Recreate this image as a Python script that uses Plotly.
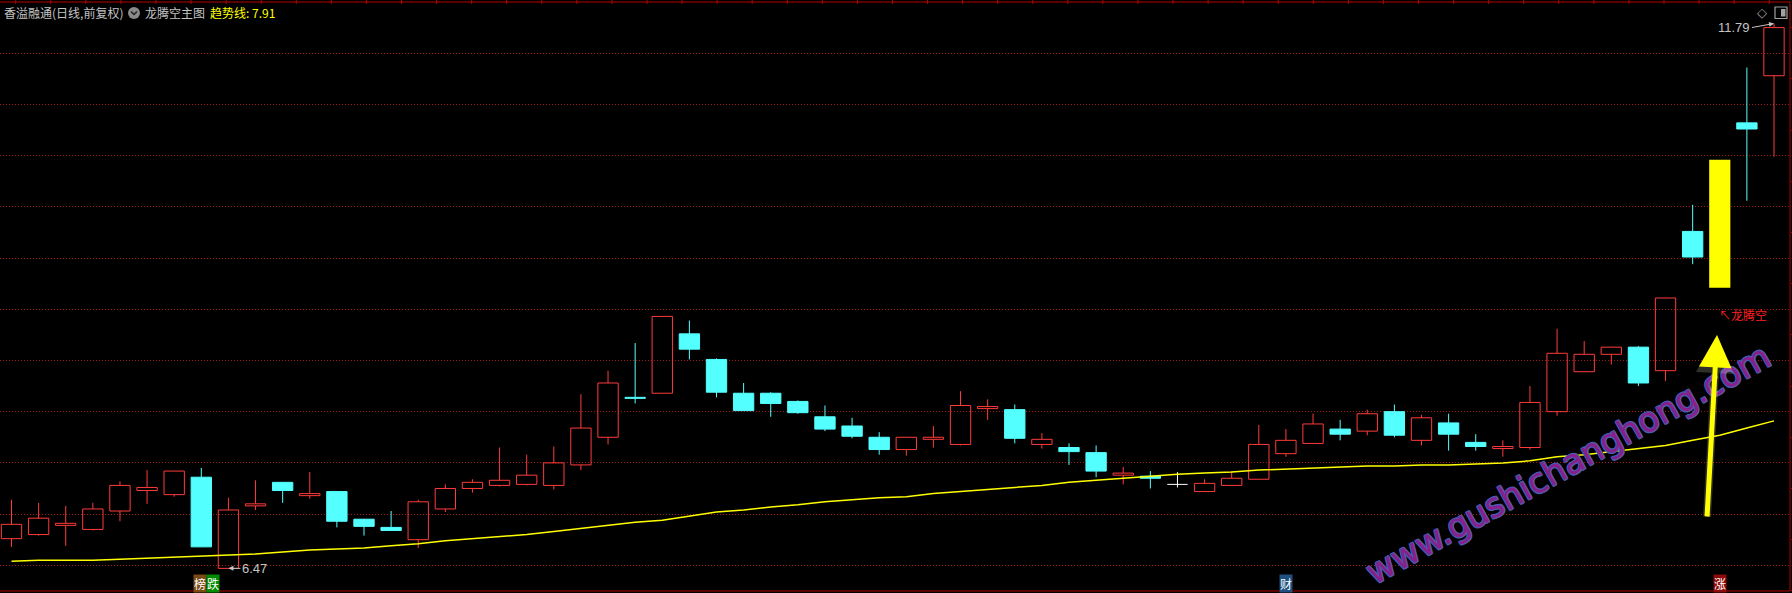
import plotly.graph_objects as go

# ---------------- data ----------------
# 66 daily candles; index 63 is covered by the yellow signal bar (candle not visible)
opens = [6.76, 6.80, 6.89, 6.85, 7.03, 7.23, 7.19, 7.36, 6.47, 7.08,
         7.31, 7.18, 7.22, 6.95, 6.87, 6.75, 7.05, 7.25, 7.28, 7.29,
         7.28, 7.48, 7.75, 8.14, 8.18, 8.76, 8.51, 8.18, 8.18, 8.10,
         7.95, 7.86, 7.75, 7.63, 7.73, 7.68, 8.03, 8.02, 7.68, 7.65,
         7.60, 7.38, 7.37, 7.29, 7.22, 7.28, 7.34, 7.59, 7.69, 7.83,
         7.81, 8.00, 7.72, 7.89, 7.70, 7.64, 7.65, 8.00, 8.39, 8.56,
         8.63, 8.40, 9.76, None, 10.82, 11.28]
highs = [7.14, 7.11, 7.08, 7.11, 7.32, 7.43, 7.42, 7.45, 7.16, 7.33,
         7.31, 7.41, 7.22, 6.95, 7.03, 7.14, 7.29, 7.34, 7.65, 7.58,
         7.66, 8.17, 8.40, 8.67, 8.93, 8.89, 8.52, 8.28, 8.19, 8.11,
         8.06, 7.94, 7.80, 7.75, 7.86, 8.20, 8.12, 8.07, 7.79, 7.69,
         7.67, 7.46, 7.42, 7.41, 7.34, 7.42, 7.87, 7.83, 7.98, 7.92,
         8.02, 8.07, 7.97, 7.98, 7.78, 7.72, 8.25, 8.81, 8.69, 8.63,
         8.64, 9.11, 10.02, None, 11.36, 11.79]
lows = [6.68, 6.79, 6.69, 6.84, 6.93, 7.10, 7.17, 6.68, 6.47, 7.04,
        7.11, 7.15, 6.87, 6.79, 6.84, 6.67, 7.02, 7.21, 7.27, 7.28,
        7.24, 7.43, 7.68, 8.08, 8.18, 8.51, 8.14, 8.01, 7.95, 7.98,
        7.81, 7.74, 7.58, 7.57, 7.65, 7.67, 7.92, 7.69, 7.64, 7.48,
        7.36, 7.29, 7.25, 7.26, 7.22, 7.28, 7.34, 7.56, 7.69, 7.72,
        7.77, 7.75, 7.67, 7.62, 7.62, 7.56, 7.63, 7.96, 8.39, 8.46,
        8.25, 8.30, 9.44, None, 10.06, 10.49]
closes = [6.90, 6.96, 6.91, 7.05, 7.28, 7.26, 7.42, 6.68, 7.04, 7.10,
          7.23, 7.20, 6.93, 6.88, 6.84, 7.12, 7.25, 7.31, 7.33, 7.38,
          7.50, 7.84, 8.28, 8.13, 8.93, 8.61, 8.19, 8.01, 8.08, 7.99,
          7.83, 7.76, 7.63, 7.75, 7.75, 8.06, 8.05, 7.74, 7.73, 7.61,
          7.42, 7.40, 7.35, 7.29, 7.30, 7.35, 7.68, 7.72, 7.88, 7.78,
          7.98, 7.77, 7.94, 7.78, 7.66, 7.66, 8.09, 8.57, 8.56, 8.63,
          8.28, 9.11, 9.51, None, 10.76, 11.75]
trend = [6.54, 6.55, 6.55, 6.55, 6.56, 6.57, 6.58, 6.59, 6.60, 6.61,
         6.63, 6.65, 6.66, 6.67, 6.69, 6.71, 6.74, 6.76, 6.78, 6.80,
         6.83, 6.86, 6.89, 6.92, 6.94, 6.98, 7.02, 7.04, 7.07, 7.09,
         7.12, 7.14, 7.16, 7.17, 7.20, 7.22, 7.24, 7.26, 7.28, 7.31,
         7.33, 7.35, 7.37, 7.39, 7.40, 7.41, 7.43, 7.44, 7.45, 7.46,
         7.47, 7.47, 7.48, 7.48, 7.49, 7.50, 7.52, 7.56, 7.58, 7.61,
         7.64, 7.67, 7.72, 7.77, 7.84, 7.91]
# "龙腾空" signal bar
signal_index = [63]
signal_low = [9.21]
signal_high = [10.46]
# bottom event markers
event_index = [7, 7, 47, 63]
event_text = ["榜", "跌", "财", "涨"]

# ---------------- styles ----------------
RED = "#FF3B3B"
CYAN = "#54FFFF"
YELLOW = "#FFFF00"
GRID = "#A01818"
BORDER = "#B40000"
GREY = "#C4C4C4"
CJK = "Noto Sans CJK SC"
event_bg = ["#7A4A14", "#008A00", "#1E4F80", "#8C0A0A"]
event_shift = [-1, 12, 0, 0]
WM_FILL = "#88208C"
WM_EDGE = "#4A5AAE"

W, H = 1792, 593
PL, PR, PT, PB = 0, 1790, 2, 591


def pxx(x):
    return (x - PL) / (PR - PL)


def pxy(y):
    return (PB - y) / (PB - PT)


n = len(opens)
xs = list(range(n))
valid = [i for i in xs if opens[i] is not None]
up = [i for i in valid if closes[i] > opens[i]]
dn = [i for i in valid if closes[i] < opens[i]]
eq = [i for i in valid if closes[i] == opens[i]]
HALF = 0.375

fig = go.Figure()

# red wicks (outside the hollow body)
wx, wy = [], []
for i in up:
    wx += [i, i, None, i, i, None]
    wy += [highs[i], closes[i], None, opens[i], lows[i], None]
fig.add_trace(go.Scatter(x=wx, y=wy, mode="lines", line=dict(color=RED, width=1),
                         hoverinfo="skip", showlegend=False))
# cyan wicks
cx, cy = [], []
for i in dn:
    cx += [i, i, None]
    cy += [highs[i], lows[i], None]
fig.add_trace(go.Scatter(x=cx, y=cy, mode="lines", line=dict(color=CYAN, width=1),
                         hoverinfo="skip", showlegend=False))
# doji (white cross)
dx, dy = [], []
for i in eq:
    dx += [i, i, None, i - HALF, i + HALF, None]
    dy += [highs[i], lows[i], None, opens[i], opens[i], None]
fig.add_trace(go.Scatter(x=dx, y=dy, mode="lines", line=dict(color="#FFFFFF", width=1),
                         hoverinfo="skip", showlegend=False))

# bodies
fig.add_trace(go.Bar(x=up, base=[opens[i] for i in up], y=[closes[i] - opens[i] for i in up],
                     width=0.75, marker=dict(color="rgba(0,0,0,0)", line=dict(color=RED, width=1)),
                     hoverinfo="skip", showlegend=False))
fig.add_trace(go.Bar(x=dn, base=[closes[i] for i in dn], y=[opens[i] - closes[i] for i in dn],
                     width=0.75, marker=dict(color=CYAN, line=dict(color=CYAN, width=1)),
                     hoverinfo="skip", showlegend=False))
# signal bar
fig.add_trace(go.Bar(x=signal_index, base=signal_low,
                     y=[h - l for h, l in zip(signal_high, signal_low)],
                     width=0.78, marker=dict(color=YELLOW, line=dict(width=0)),
                     hoverinfo="skip", showlegend=False, zorder=5))
# trend line
fig.add_trace(go.Scatter(x=xs, y=trend, mode="lines", line=dict(color=YELLOW, width=1.5),
                         hoverinfo="skip", showlegend=False, zorder=10))

ann = []
# title row
ann.append(dict(x=pxx(2), y=pxy(13), xref="paper", yref="paper", xanchor="left", yanchor="middle",
                text="香溢融通(日线,前复权)", showarrow=False, font=dict(family=CJK, size=12, color=GREY)))
ann.append(dict(x=pxx(143), y=pxy(13), xref="paper", yref="paper", xanchor="left", yanchor="middle",
                text="龙腾空主图", showarrow=False, font=dict(family=CJK, size=12, color=GREY)))
ann.append(dict(x=pxx(208), y=pxy(13), xref="paper", yref="paper", xanchor="left", yanchor="middle",
                text="趋势线: %.2f" % trend[-1], showarrow=False, font=dict(family=CJK, size=12, color=YELLOW)))
# top right diamond icon
ann.append(dict(x=pxx(1762), y=pxy(13), xref="paper", yref="paper", xanchor="center", yanchor="middle",
                text="◇", showarrow=False, font=dict(family="DejaVu Sans", size=13, color="#A0A0A0")))

# max / min labels
imax = max(valid, key=lambda i: highs[i])
imin = min(valid, key=lambda i: lows[i])
ann.append(dict(x=imax, y=highs[imax], xref="x", yref="y", text="%.2f" % highs[imax],
                showarrow=True, ax=-22, ay=4, xanchor="right", yanchor="middle",
                arrowhead=2, arrowsize=1, arrowwidth=1, arrowcolor=GREY, standoff=0,
                font=dict(family="Liberation Sans", size=13, color=GREY)))
ann.append(dict(x=imin, y=lows[imin], xref="x", yref="y", text="%.2f" % lows[imin],
                showarrow=True, ax=12, ay=0, xanchor="left", yanchor="middle",
                arrowhead=2, arrowsize=1, arrowwidth=1, arrowcolor=GREY, standoff=0,
                font=dict(family="Liberation Sans", size=13, color=GREY)))

# signal label
ann.append(dict(x=signal_index[0], y=signal_low[0] - 0.26, xref="x", yref="y", xanchor="left",
                yanchor="middle", xshift=-3, text="↖龙腾空", showarrow=False,
                font=dict(family=CJK, size=12, color="#FF2020")))

# bottom event labels
for k in range(len(event_index)):
    ann.append(dict(x=event_index[k], y=pxy(583.5), xref="x", yref="paper", xanchor="center",
                    yanchor="middle", xshift=event_shift[k], text=event_text[k], showarrow=False,
                    bgcolor=event_bg[k], borderpad=0,
                    font=dict(family=CJK, size=12, color="#FFFFFF")))

# watermark
edge = ", ".join("%dpx %dpx 0 %s" % (a, b, WM_EDGE)
                 for a, b in [(-1, -1), (1, -1), (-1, 1), (1, 1), (0, 1), (0, -1), (1, 0), (-1, 0)])
ann.append(dict(x=pxx(1568), y=pxy(464), xref="paper", yref="paper", xanchor="center", yanchor="middle",
                text="www.gushichanghong.com", textangle=-29, showarrow=False,
                font=dict(family="DejaVu Sans", size=34, color=WM_FILL, weight=400, shadow=edge)))

# big yellow arrow (glow + arrow)
ann.append(dict(x=pxx(1717), y=pxy(335), xref="paper", yref="paper", text="", showarrow=True,
                ax=-10, ay=183, arrowhead=2, arrowsize=0.95, arrowwidth=8,
                arrowcolor="rgba(255,255,230,0.18)", standoff=0))
ann.append(dict(x=pxx(1717), y=pxy(335), xref="paper", yref="paper", text="", showarrow=True,
                ax=-10, ay=183, arrowhead=2, arrowsize=1.3, arrowwidth=5,
                arrowcolor=YELLOW, standoff=0))

shapes = []
# frame
shapes.append(dict(type="line", xref="paper", yref="paper", x0=0, x1=1, y0=1, y1=1,
                   line=dict(color=BORDER, width=1)))
shapes.append(dict(type="line", xref="paper", yref="paper", x0=0, x1=1, y0=0, y1=0,
                   line=dict(color=BORDER, width=1)))
shapes.append(dict(type="line", xref="paper", yref="paper", x0=1, x1=1, y0=0, y1=1,
                   line=dict(color=BORDER, width=1)))
# small ticks on the top border
for k in range(51):
    tx = 15.7 + k * 35.07
    shapes.append(dict(type="line", xref="paper", yref="paper", x0=pxx(tx), x1=pxx(tx),
                       y0=pxy(0), y1=pxy(4), line=dict(color=BORDER, width=1)))
# title circle icon
shapes.append(dict(type="circle", xref="paper", yref="paper", x0=pxx(128), x1=pxx(140),
                   y0=pxy(19), y1=pxy(7), fillcolor="#8A8A8A", line=dict(width=0)))
shapes.append(dict(type="path", xref="paper", yref="paper",
                   path="M %f,%f L %f,%f L %f,%f" % (pxx(131), pxy(11.5), pxx(134), pxy(14.5), pxx(137), pxy(11.5)),
                   line=dict(color="#222222", width=1.5)))
# top right panel icon
shapes.append(dict(type="rect", xref="paper", yref="paper", x0=pxx(1775), x1=pxx(1787),
                   y0=pxy(18.5), y1=pxy(7), line=dict(color="#A0A0A0", width=1.2)))
shapes.append(dict(type="rect", xref="paper", yref="paper", x0=pxx(1781), x1=pxx(1785.5),
                   y0=pxy(16.5), y1=pxy(9), fillcolor="#A0A0A0", line=dict(width=0)))

x_left = -0.424
x_right = n - 1 + 0.59

fig.update_layout(
    width=W, height=H,
    margin=dict(l=PL, r=W - PR, t=PT, b=H - PB),
    paper_bgcolor="#000000", plot_bgcolor="#000000",
    barmode="overlay", hovermode=False, showlegend=False,
    xaxis=dict(range=[x_left, x_right], showgrid=False, zeroline=False, showticklabels=False,
               ticks="", showline=False, fixedrange=True),
    yaxis=dict(range=[6.249, 12.0], side="right", showgrid=True, gridcolor=GRID, gridwidth=1,
               griddash="1px,2px", tick0=6.5, dtick=0.5, zeroline=False, showticklabels=False,
               ticks="", showline=False, fixedrange=True,
               minor=dict(tick0=6.5, dtick=0.25, ticks="outside", ticklen=3, tickcolor=BORDER,
                          tickwidth=1, showgrid=False)),
    annotations=ann,
    shapes=shapes,
)

fig.write_html("out.html", config={"displayModeBar": False},
               post_script="document.body.style.margin='0';document.body.style.background='#000';")
